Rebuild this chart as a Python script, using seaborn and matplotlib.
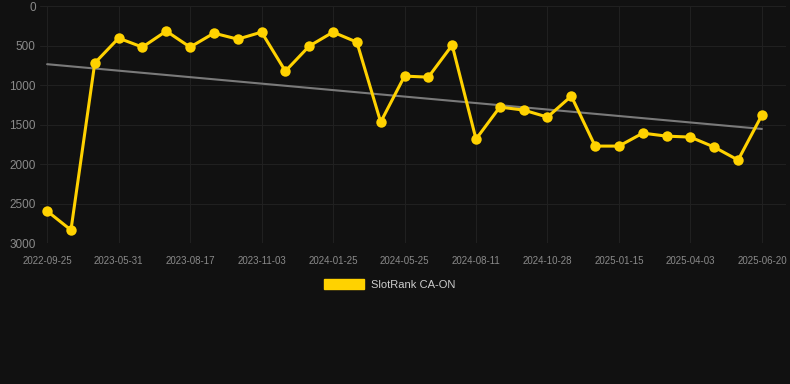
import matplotlib
matplotlib.use("Agg")
import matplotlib.pyplot as plt
import pandas as pd
import seaborn as sns
from matplotlib.patches import Patch

# labelled dates (every third point on the x axis)
tick_labels = ["2022-09-25", "2023-05-31", "2023-08-17", "2023-11-03", "2024-01-25",
               "2024-05-25", "2024-08-11", "2024-10-28", "2025-01-15", "2025-04-03",
               "2025-06-20"]

# rank values, one per point (lower is better, axis is inverted)
rank = [2595, 2835, 720, 405, 519, 316, 519, 342, 418, 329,
        823, 506, 329, 456, 1468, 886, 899, 494, 1684, 1278,
        1316, 1405, 1139, 1772, 1772, 1608, 1646, 1658, 1785, 1949,
        1380]

# trend line start / end values
trend = [735, 1555]

series_name = "SlotRank CA-ON"
yellow = "#FFD200"
bg = "#111111"
grid_col = "#202020"
text_col = "#8a8a8a"

sns.set_style("dark")
plt.rcParams['font.family'] = ['Liberation Sans', 'DejaVu Sans']

df = pd.DataFrame({"idx": range(len(rank)), "rank": rank})

fig = plt.figure(figsize=(7.9, 3.84), dpi=100, facecolor=bg)
ax = fig.add_axes([0.0506, 0.367, 0.944, 0.617])
ax.set_facecolor(bg)

ax.plot([0, len(rank) - 1], trend, color="#7a7a7a", lw=1.5, zorder=2)
sns.lineplot(data=df, x="idx", y="rank", ax=ax, color=yellow, linewidth=2.2,
             marker="o", markersize=7.5, markeredgewidth=0, zorder=3)

ax.set_ylim(3000, 0)
ax.set_xlim(-0.3, 31.0)
ax.set_xticks(range(0, len(rank), 3))
ax.set_xticklabels(tick_labels)
ax.set_yticks(range(0, 3001, 500))
ax.set_xlabel("")
ax.set_ylabel("")

ax.grid(True, color=grid_col, linewidth=0.8)
for s in ax.spines.values():
    s.set_visible(False)
ax.tick_params(axis="x", colors=grid_col, labelcolor=text_col, labelsize=7, length=6, pad=3)
ax.tick_params(axis="y", colors=grid_col, labelcolor=text_col, labelsize=8.5, length=0, pad=3)

fig.legend(handles=[Patch(facecolor=yellow, edgecolor=yellow, label=series_name)], loc="center",
           bbox_to_anchor=(0.493, 0.26), frameon=False, fontsize=8, labelcolor="#cccccc",
           handlelength=3.6, handleheight=1.1, handletextpad=0.6)

fig.savefig("out.png", dpi=100, facecolor=bg)
